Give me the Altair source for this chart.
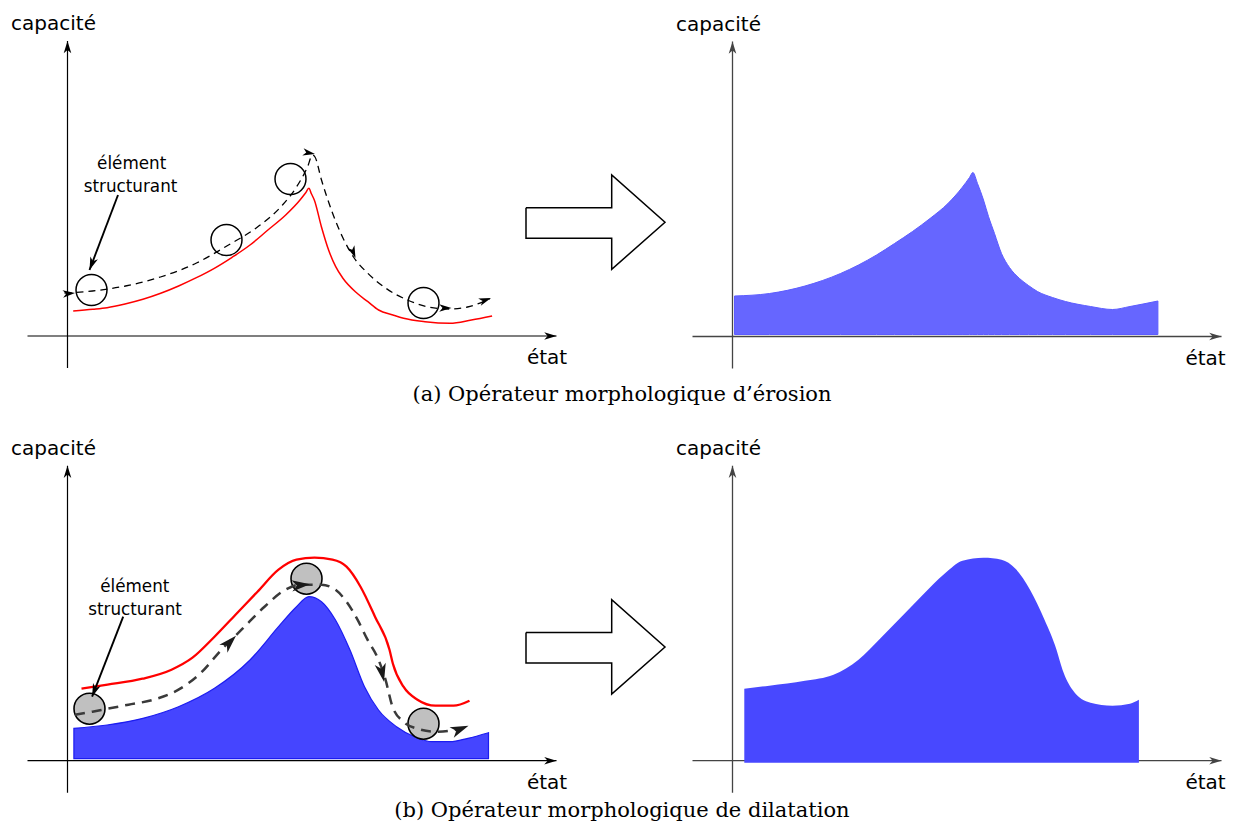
import math
import altair as alt
import pandas as pd

# ---------------- values (each panel in its own units:
# e = "état" along the horizontal axis, c = "capacité" up the vertical axis) ----
# (a) left : profile after erosion (red) and path of the structuring element
RED_A_E = [5.7, 25.4, 39.6, 57.5, 75.4, 93.2, 111.1, 128.9, 146.8, 164.6, 182.5, 200.4, 218.2, 232.5, 238, 241.4,
           244, 246.8, 253.9, 261.1, 268.2, 275.4, 289.6, 300.4, 311.1, 325.4, 336.1, 357.5, 382.5, 403.9, 424.6]
RED_A_C = [25, 26.7, 28.3, 32, 36.7, 42.7, 50, 58.3, 67.7, 78.7, 91, 106, 121, 136, 143, 147.7,
           142, 136, 109.3, 86, 69.3, 57.7, 42.7, 34.3, 26, 21, 17.7, 14.3, 12.7, 16, 20]
PATH_A_E = [-3, 25, 58, 93, 129, 161, 190, 215, 229, 240, 245, 247.5, 254, 265, 275, 286, 300, 318, 340, 361, 383, 400, 422]
PATH_A_C = [43, 45, 50, 59, 73, 91, 109, 131, 149, 169, 181, 179, 156, 123, 99, 79, 63, 48, 36, 29, 27, 29, 37]
BALL_A_E = [24, 159, 223, 356]
BALL_A_C = [46, 96, 157, 33]
HEAD_A_E = [7.5, 247.5, 288, 384, 423.5]
HEAD_A_C = [43, 182, 78, 28, 38]
HEAD_A_ANG = [355, 10, 68, 0, 340]
POINTER_A_E = [50.5, 22]
POINTER_A_C = [141, 66]

# (a) right : eroded result
ERO_E = [2, 37, 72.5, 108, 144, 162, 180, 197.5, 215.4, 229.6, 237, 240.4, 245, 251, 256, 262, 269, 277,
         287, 296, 305, 320, 333, 358, 380, 397.5, 425.4]
ERO_C = [40.5, 43, 50.5, 63, 81.5, 93, 105, 118, 133, 149, 159, 164, 153, 136.5, 120, 103, 83, 69,
         58, 51, 45, 39, 35, 30, 27, 30, 35.5]
ERO_BASE = 2

# (b) left : original profile (blue), dilated profile (red), element path
ORIG_E = [6.4, 39.6, 75.4, 111, 147, 182.5, 211, 229, 241.4, 254, 268, 282.5, 297, 311, 329, 347, 364.6, 382.5, 400.4, 421]
ORIG_C = [32.4, 35.7, 42.4, 54, 72.4, 100.7, 134, 154, 164, 159, 140.7, 110.7, 74, 50.7, 34, 24, 19, 19, 22.4, 28]
ORIG_BASE = 2
RED_B_E = [14, 40, 75, 104, 125, 147, 168, 190, 211, 229, 247, 265, 279, 293, 307.5, 322, 325.4, 336, 350, 368, 386, 402]
RED_B_C = [72, 76, 82, 91, 103, 124, 146, 169, 191, 201, 203, 201, 194, 174, 144, 111, 97, 74, 61, 55, 55, 60]
PATH_B_E = [7.5, 25, 40, 61, 86, 111, 132.5, 154, 175, 197, 218, 232.5, 254, 268, 279, 290, 300, 311, 318, 325, 336, 350, 368, 382.5, 393]
PATH_B_C = [46, 49, 52, 56, 61, 71, 87, 111, 132, 154, 171, 176, 176, 171, 159, 141, 121, 101, 81, 54, 39, 32, 29, 30, 32]
BALL_B_E = [22, 239, 356]
BALL_B_C = [52, 182, 37]
HEAD_B_E = [168.5, 242.5, 316.5, 401]
HEAD_B_C = [125, 176.4, 79, 35]
HEAD_B_ANG = [314, 355, 78, 338]
POINTER_B_E = [55.7, 24.6]
POINTER_B_C = [144, 64]

# (b) right : dilated result
DIL_E = [11.8, 36.8, 72.5, 101, 126, 147.5, 169, 190.4, 212, 230, 251, 269, 283, 297.5, 312, 324, 330, 340, 358, 380, 397.5, 406.4]
DIL_C = [72, 75, 80, 86, 101, 122, 144, 166, 187, 200, 203, 201, 192, 171, 141, 111, 91, 71, 58, 55, 57, 61]
DIL_BASE = -2

# texts
AXIS_Y_LABEL = "capacité"
AXIS_X_LABEL = "état"
ELEMENT_LABEL = ["élément", "structurant"]
CAPTIONS = ["(a) Opérateur morphologique d’érosion",
            "(b) Opérateur morphologique de dilatation"]

# ---------------- layout (page pixels) ----------------
ORIGINS = {"aL": (67.5, 336.0), "aR": (732.5, 336.5), "bL": (67.5, 760.7), "bR": (732.5, 760.7)}
ROWS = {"a": 336.0, "b": 760.7}
AX_E = (-40, 489)
AX_C = (-32, 295)
X_LABEL_E = {"aL": 479.5, "bL": 479.5, "aR": 473, "bR": 473}
BIG_ARROW_X = [526, 611.7, 611.7, 665, 611.7, 611.7, 526, 526]
BIG_ARROW_C = [128.3, 128.3, 161, 113.7, 66.7, 97.7, 97.7, 128.3]
CAPTION_X = 622
CAPTION_DROP = {"a": 64.5, "b": 56.5}

STEALTH = "M0,0 L-2,-0.62 L-1.45,0 L-2,0.62 Z"

X = alt.X("x:Q", scale=alt.Scale(domain=[8, 1227], nice=False, zero=False), axis=None)
Y = alt.Y("y:Q", scale=alt.Scale(domain=[8, 822], nice=False, zero=False, reverse=True), axis=None)


def place(panel, es, cs):
    ox, oy = ORIGINS[panel]
    return [ox + e for e in es], [oy - c for c in cs]


def path_df(items):
    rows = []
    for k, (panel, es, cs) in enumerate(items):
        xs, ys = place(panel, es, cs)
        for i, (x, y) in enumerate(zip(xs, ys)):
            rows.append({"x": x, "y": y, "id": k, "i": i})
    return pd.DataFrame(rows)


def lines(items, color, width, dash=None, interp="linear"):
    kw = dict(color=color, strokeWidth=width, interpolate=interp, opacity=1)
    if dash:
        kw["strokeDash"] = dash
    return alt.Chart(path_df(items)).mark_line(**kw).encode(
        x=X, y=Y, detail="id:N", order="i:Q")


def heads(items):
    rows = []
    for panel, es, cs, angs, size, color in items:
        xs, ys = place(panel, es, cs)
        for x, y, a in zip(xs, ys, angs):
            rows.append({"x": x, "y": y, "angle": a, "size": size, "color": color})
    return alt.Chart(pd.DataFrame(rows)).mark_point(
        shape=STEALTH, filled=True, opacity=1, strokeWidth=0).encode(
        x=X, y=Y,
        angle=alt.Angle("angle:Q", scale=None),
        size=alt.Size("size:Q", scale=None),
        color=alt.Color("color:N", scale=None))


def area(panel, es, cs, base, fill, stroke=None, sw=0):
    xs, ys = place(panel, es, cs)
    _, (yb,) = place(panel, [0], [base])
    df = pd.DataFrame({"x": xs, "y": ys, "y2": [yb] * len(xs)})
    kw = dict(fill=fill, opacity=1, fillOpacity=1, interpolate="monotone", orient="vertical")
    if stroke:
        kw.update(stroke=stroke, strokeWidth=sw)
    return alt.Chart(df).mark_area(**kw).encode(x=X, y=Y, y2="y2:Q")


def balls(panel, es, cs, filled):
    xs, ys = place(panel, es, cs)
    df = pd.DataFrame({"x": xs, "y": ys})
    if filled:
        m = alt.Chart(df).mark_point(shape="circle", size=960, filled=True, fill="#c0c0c0",
                                     stroke="black", strokeWidth=1.6, opacity=1)
    else:
        m = alt.Chart(df).mark_point(shape="circle", size=960, filled=False,
                                     stroke="black", strokeWidth=1.5, opacity=1)
    return m.encode(x=X, y=Y)


def texts(rows, font, size):
    return alt.Chart(pd.DataFrame(rows)).mark_text(
        font=font, fontSize=size, align="center", baseline="alphabetic", color="black").encode(
        x=X, y=Y, text="t:N")


def axes(panels):
    items = []
    for p in panels:
        items.append((p, [0, 0], [AX_C[0], AX_C[1]]))
        items.append((p, [AX_E[0], AX_E[1]], [0, 0]))
    return items


def axis_heads(panels, color):
    return [(p, [0, AX_E[1]], [AX_C[1], 0], [270, 0], 150, color) for p in panels]


def pointer_angle(es, cs):
    dx = es[1] - es[0]
    dy = -(cs[1] - cs[0])
    return (math.degrees(math.atan2(dy, dx)) + 360) % 360


# ----- layers -----
right_axes = lines(axes(["aR", "bR"]), "#444444", 1.3)
right_heads = heads(axis_heads(["aR", "bR"], "#444444"))

ero = area("aR", ERO_E, ERO_C, ERO_BASE, "#6666ff", "#5c5cff", 1)
orig = area("bL", ORIG_E, ORIG_C, ORIG_BASE, "#4545ff", "#1c1cf0", 1.2)
dil = area("bR", DIL_E, DIL_C, DIL_BASE, "#4848ff")

left_axes = lines(axes(["aL", "bL"]), "black", 1.2)
left_heads = heads(axis_heads(["aL", "bL"], "black"))

red_a = lines([("aL", RED_A_E, RED_A_C)], "#ff0000", 1.5, interp="monotone")
red_b = lines([("bL", RED_B_E, RED_B_C)], "#ff0000", 2.3, interp="monotone")

balls_a = balls("aL", BALL_A_E, BALL_A_C, False)
balls_b = balls("bL", BALL_B_E, BALL_B_C, True)

dash_a = lines([("aL", PATH_A_E, PATH_A_C)], "black", 1.3, dash=[7, 5], interp="monotone")
dash_b = lines([("bL", PATH_B_E, PATH_B_C)], "#3a3a3a", 2.5, dash=[10, 7], interp="monotone")

pointers = lines([("aL", POINTER_A_E, POINTER_A_C), ("bL", POINTER_B_E, POINTER_B_C)], "black", 1.9)

path_heads = heads([
    ("aL", HEAD_A_E, HEAD_A_C, HEAD_A_ANG, 150, "black"),
    ("bL", HEAD_B_E, HEAD_B_C, HEAD_B_ANG, 330, "#1a1a1a"),
    ("aL", [POINTER_A_E[1]], [POINTER_A_C[1]], [pointer_angle(POINTER_A_E, POINTER_A_C)], 170, "black"),
    ("bL", [POINTER_B_E[1]], [POINTER_B_C[1]], [pointer_angle(POINTER_B_E, POINTER_B_C)], 170, "black"),
])

label_rows = []
for p in ORIGINS:
    xs, ys = place(p, [-14, X_LABEL_E[p]], [306, -28])
    label_rows.append({"x": xs[0], "y": ys[0], "t": AXIS_Y_LABEL})
    label_rows.append({"x": xs[1], "y": ys[1], "t": AXIS_X_LABEL})
axis_labels = texts(label_rows, "DejaVu Sans", 20)

elem_rows = []
for p, (e1, c1, e2, c2) in {"aL": (64.2, 167, 63, 144.3), "bL": (67.3, 168.7, 67.5, 145.7)}.items():
    xs, ys = place(p, [e1, e2], [c1, c2])
    elem_rows.append({"x": xs[0], "y": ys[0], "t": ELEMENT_LABEL[0]})
    elem_rows.append({"x": xs[1], "y": ys[1], "t": ELEMENT_LABEL[1]})
elem_labels = texts(elem_rows, "DejaVu Sans", 16.8)

cap_rows = [{"x": CAPTION_X, "y": ROWS[r] + CAPTION_DROP[r], "t": t} for r, t in zip(["a", "b"], CAPTIONS)]
captions = texts(cap_rows, "DejaVu Serif", 21)

big_rows = []
for k, r in enumerate(["a", "b"]):
    for i, (x, c) in enumerate(zip(BIG_ARROW_X, BIG_ARROW_C)):
        big_rows.append({"x": x, "y": ROWS[r] - c, "id": k, "i": i})
big_arrows = alt.Chart(pd.DataFrame(big_rows)).mark_line(
    color="black", strokeWidth=1.5, strokeJoin="miter", opacity=1).encode(
    x=X, y=Y, detail="id:N", order="i:Q")

chart = alt.layer(
    right_axes, right_heads, ero, orig, dil, left_axes, left_heads,
    red_a, red_b, balls_a, balls_b, dash_a, dash_b, pointers, path_heads,
    axis_labels, elem_labels, captions, big_arrows,
).properties(
    width=1219, height=814, padding=0, autosize="none", background="white"
).configure_view(stroke=None)

chart.save("out.html", embed_options={"renderer": "svg", "actions": False})
